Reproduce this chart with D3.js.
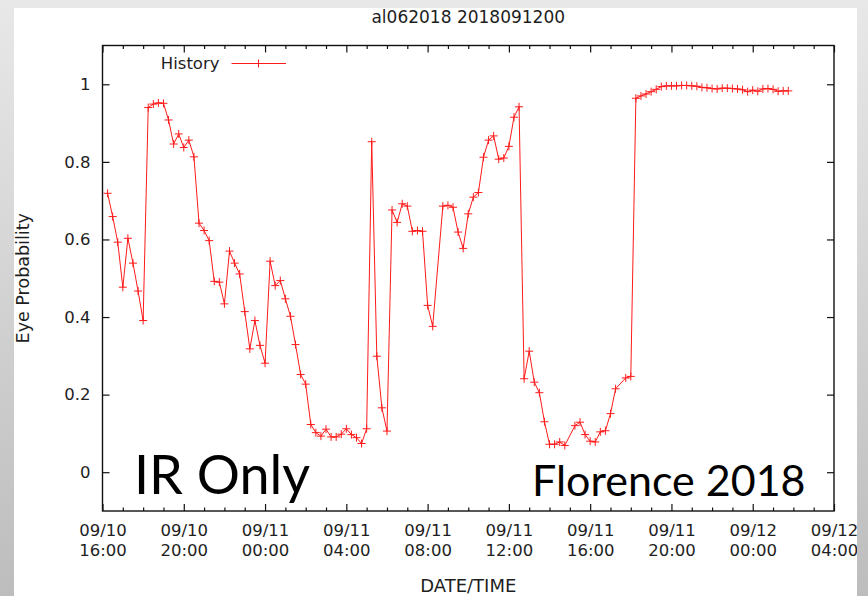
<!DOCTYPE html>
<html>
<head>
<meta charset="utf-8">
<script src="https://cdn.jsdelivr.net/npm/d3@7"></script>
<style>
  html, body { margin: 0; padding: 0; background: #fff; }
  svg { display: block; }
</style>
</head>
<body>
<script>
// ---------- DATA ----------
const chartTitle = "al062018 2018091200";
const seriesName = "History";
const xAxisLabel = "DATE/TIME";
const yAxisLabel = "Eye Probability";
const noteLeft = "IR Only";
const noteRight = "Florence 2018";

const times = [
  "09/10 16:15","09/10 16:30","09/10 16:45","09/10 17:00","09/10 17:15","09/10 17:30","09/10 17:45","09/10 18:00",
  "09/10 18:15","09/10 18:30","09/10 18:45","09/10 19:00","09/10 19:15","09/10 19:30","09/10 19:45","09/10 20:00",
  "09/10 20:15","09/10 20:30","09/10 20:45","09/10 21:00","09/10 21:15","09/10 21:30","09/10 21:45","09/10 22:00",
  "09/10 22:15","09/10 22:30","09/10 22:45","09/10 23:00","09/10 23:15","09/10 23:30","09/10 23:45","09/11 00:00",
  "09/11 00:15","09/11 00:30","09/11 00:45","09/11 01:00","09/11 01:15","09/11 01:30","09/11 01:45","09/11 02:00",
  "09/11 02:15","09/11 02:30","09/11 02:45","09/11 03:00","09/11 03:15","09/11 03:30","09/11 03:45","09/11 04:00",
  "09/11 04:15","09/11 04:30","09/11 04:45","09/11 05:00","09/11 05:15","09/11 05:30","09/11 05:45","09/11 06:00",
  "09/11 06:15","09/11 06:30","09/11 06:45","09/11 07:00","09/11 07:15","09/11 07:30","09/11 07:45","09/11 08:00",
  "09/11 08:15","09/11 08:45","09/11 09:00","09/11 09:15","09/11 09:30","09/11 09:45","09/11 10:00","09/11 10:15",
  "09/11 10:30","09/11 10:45","09/11 11:00","09/11 11:15","09/11 11:30","09/11 11:45","09/11 12:00","09/11 12:15",
  "09/11 12:30","09/11 12:45","09/11 13:00","09/11 13:15","09/11 13:30","09/11 13:45","09/11 14:00","09/11 14:15",
  "09/11 14:30","09/11 14:45","09/11 15:15","09/11 15:30","09/11 15:45","09/11 16:00","09/11 16:15","09/11 16:30",
  "09/11 16:45","09/11 17:00","09/11 17:15","09/11 17:45","09/11 18:00","09/11 18:15","09/11 18:30","09/11 18:45",
  "09/11 19:00","09/11 19:15","09/11 19:30","09/11 19:45","09/11 20:00","09/11 20:15","09/11 20:30","09/11 20:45",
  "09/11 21:00","09/11 21:15","09/11 21:30","09/11 21:45","09/11 22:00","09/11 22:15","09/11 22:30","09/11 22:45",
  "09/11 23:00","09/11 23:15","09/11 23:30","09/11 23:45","09/12 00:00","09/12 00:15","09/12 00:30","09/12 00:45",
  "09/12 01:00","09/12 01:15","09/12 01:30","09/12 01:45"
];

const eyeProb = [
  0.719,0.659,0.593,0.477,0.603,0.539,0.467,0.391,
  0.940,0.949,0.952,0.951,0.908,0.846,0.872,0.837,
  0.856,0.813,0.642,0.623,0.597,0.492,0.490,0.434,
  0.570,0.539,0.511,0.414,0.318,0.391,0.327,0.281,
  0.544,0.481,0.494,0.447,0.402,0.329,0.252,0.227,
  0.123,0.102,0.093,0.111,0.091,0.091,0.098,0.112,
  0.097,0.089,0.074,0.112,0.852,0.299,0.166,0.106,
  0.676,0.644,0.692,0.686,0.621,0.623,0.621,0.430,
  0.376,0.686,0.688,0.683,0.619,0.577,0.666,0.709,
  0.721,0.812,0.856,0.867,0.807,0.810,0.840,0.915,
  0.942,0.241,0.312,0.232,0.205,0.130,0.072,0.072,
  0.078,0.069,0.120,0.129,0.097,0.080,0.078,0.104,
  0.107,0.151,0.215,0.243,0.247,0.964,0.970,0.975,
  0.981,0.987,0.994,0.996,0.996,0.996,0.997,0.997,
  0.996,0.995,0.992,0.991,0.989,0.988,0.990,0.990,
  0.989,0.988,0.986,0.981,0.985,0.982,0.988,0.989,
  0.987,0.982,0.983,0.983
];

const xDomain = ["09/10 16:00", "09/12 04:00"];
const xMajorTicks = ["09/10 16:00","09/10 20:00","09/11 00:00","09/11 04:00","09/11 08:00",
                     "09/11 12:00","09/11 16:00","09/11 20:00","09/12 00:00","09/12 04:00"];
const yDomain = [-0.1, 1.1];
const yTicks = [0, 0.2, 0.4, 0.6, 0.8, 1];

// ---------- SETUP ----------
const W = 868, H = 596;
const plot = { left: 102.5, right: 834, top: 45.5, bottom: 511 };
const parse = s => d3.utcParse("%Y/%m/%d %H:%M")("2018/" + s);

const data = times.map((t, i) => ({ t: parse(t), v: eyeProb[i] }));

const x = d3.scaleUtc().domain(xDomain.map(parse)).range([plot.left, plot.right]);
const y = d3.scaleLinear().domain(yDomain).range([plot.bottom, plot.top]);

const FONT = "'DejaVu Sans', sans-serif";
const TXT = "#1e1e1e";

const svg = d3.select("body").append("svg").attr("width", W).attr("height", H);
const defs = svg.append("defs");
const grad = defs.append("linearGradient").attr("id", "bg").attr("x1", 0).attr("y1", 0).attr("x2", 0).attr("y2", 1);
grad.append("stop").attr("offset", "0%").attr("stop-color", "#e8e8e8");
grad.append("stop").attr("offset", "100%").attr("stop-color", "#bdbdbd");
defs.append("clipPath").attr("id", "panel").append("rect")
  .attr("x", 14).attr("y", 8).attr("width", 843).attr("height", 588);

svg.append("rect").attr("width", W).attr("height", H).attr("fill", "url(#bg)");
svg.append("rect").attr("x", 14).attr("y", 8).attr("width", 843).attr("height", 588).attr("fill", "#fff");

const g = svg.append("g").attr("clip-path", "url(#panel)");

// ---------- AXES ----------
function styleAxis(sel) {
  sel.select(".domain").remove();
  sel.selectAll(".tick line").attr("stroke", "#111").attr("stroke-width", 1.2);
  sel.selectAll("text").attr("fill", TXT);
}
const majors = xMajorTicks.map(parse);
const minors = d3.utcHour.every(1).range(x.domain()[0], x.domain()[1]).filter(d => !majors.some(m => +m === +d));

// bottom minor / major
g.append("g").attr("transform", `translate(0,${plot.bottom})`)
  .call(d3.axisBottom(x).tickValues(minors).tickSizeInner(-3.5).tickSizeOuter(0).tickFormat(""))
  .call(styleAxis);
const gxb = g.append("g").attr("transform", `translate(0,${plot.bottom})`)
  .call(d3.axisBottom(x).tickValues(majors).tickSizeInner(-7).tickSizeOuter(0).tickFormat(""))
  .call(styleAxis);
gxb.selectAll(".tick").append("text")
  .attr("fill", TXT).attr("font-family", FONT).attr("font-size", 16.5).attr("text-anchor", "middle")
  .each(function(d) {
    const t = d3.select(this);
    t.append("tspan").attr("x", 0).attr("y", 25).text(d3.utcFormat("%m/%d")(d));
    t.append("tspan").attr("x", 0).attr("y", 45).text(d3.utcFormat("%H:%M")(d));
  });

// top minor / major
g.append("g").attr("transform", `translate(0,${plot.top})`)
  .call(d3.axisTop(x).tickValues(minors).tickSizeInner(-3.5).tickSizeOuter(0).tickFormat(""))
  .call(styleAxis);
g.append("g").attr("transform", `translate(0,${plot.top})`)
  .call(d3.axisTop(x).tickValues(majors).tickSizeInner(-7).tickSizeOuter(0).tickFormat(""))
  .call(styleAxis);

// left / right
const gyl = g.append("g").attr("transform", `translate(${plot.left},0)`)
  .call(d3.axisLeft(y).tickValues(yTicks).tickSizeInner(-7).tickSizeOuter(0).tickPadding(12).tickFormat(d3.format("~g")))
  .call(styleAxis);
gyl.selectAll("text").attr("font-family", FONT).attr("font-size", 16.5);
g.append("g").attr("transform", `translate(${plot.right},0)`)
  .call(d3.axisRight(y).tickValues(yTicks).tickSizeInner(-7).tickSizeOuter(0).tickFormat(""))
  .call(styleAxis);

// frame
g.append("rect").attr("x", plot.left).attr("y", plot.top)
  .attr("width", plot.right - plot.left).attr("height", plot.bottom - plot.top)
  .attr("fill", "none").attr("stroke", "#111").attr("stroke-width", 1.4);

// ---------- TITLES ----------
g.append("text").attr("x", (plot.left + plot.right) / 2).attr("y", 23)
  .attr("text-anchor", "middle").attr("font-family", FONT).attr("font-size", 17).attr("fill", TXT)
  .text(chartTitle);
g.append("text").attr("x", (plot.left + plot.right) / 2).attr("y", 592)
  .attr("text-anchor", "middle").attr("font-family", FONT).attr("font-size", 18).attr("fill", TXT)
  .text(xAxisLabel);
g.append("text").attr("transform", `translate(28.5,${(plot.top + plot.bottom) / 2}) rotate(-90)`)
  .attr("text-anchor", "middle").attr("font-family", FONT).attr("font-size", 17.5).attr("fill", TXT)
  .text(yAxisLabel);

// ---------- SERIES ----------
const RED = "#ff1a1a";
const plus = "M-4,0H4M0,-4V4";
g.append("path").datum(data)
  .attr("fill", "none").attr("stroke", RED).attr("stroke-width", 1)
  .attr("d", d3.line().x(d => x(d.t)).y(d => y(d.v)));
g.append("g").selectAll("path").data(data).join("path")
  .attr("d", plus).attr("stroke", RED).attr("stroke-width", 1).attr("fill", "none")
  .attr("transform", d => `translate(${x(d.t)},${y(d.v)})`);

// ---------- LEGEND ----------
const leg = g.append("g");
leg.append("text").attr("x", 219.5).attr("y", 69).attr("text-anchor", "end")
  .attr("font-family", FONT).attr("font-size", 16.5).attr("fill", TXT).text(seriesName);
leg.append("line").attr("x1", 231.5).attr("x2", 286).attr("y1", 63.5).attr("y2", 63.5)
  .attr("stroke", RED).attr("stroke-width", 1);
leg.append("path").attr("d", plus).attr("stroke", RED).attr("fill", "none")
  .attr("transform", "translate(258.5,63.5)");

// ---------- ANNOTATIONS ----------
g.append("text").attr("x", 134).attr("y", 494).attr("font-family", "Lato, 'Open Sans', sans-serif")
  .attr("font-size", 54).attr("fill", "#000").text(noteLeft);
g.append("text").attr("x", 532).attr("y", 496).attr("font-family", "Lato, 'Open Sans', sans-serif")
  .attr("font-size", 43).attr("fill", "#000").text(noteRight);
</script>
</body>
</html>
